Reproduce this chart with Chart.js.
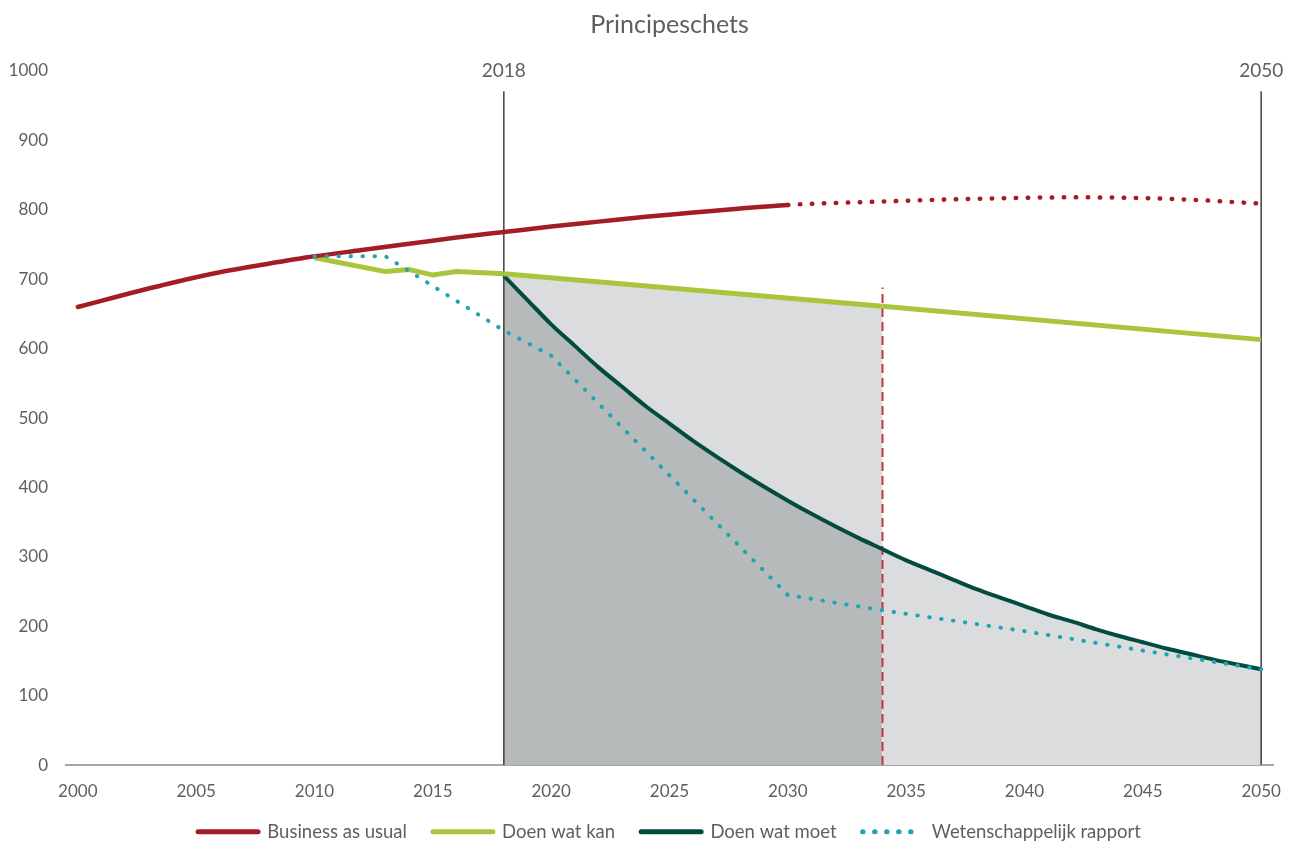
<!DOCTYPE html>
<html>
<head>
<meta charset="utf-8">
<title>Principeschets</title>
<script src="https://cdn.jsdelivr.net/npm/chart.js@4.4.1/dist/chart.umd.min.js"></script>
<style>
  html, body { margin: 0; padding: 0; background: #fff; overflow: hidden; }
  #wrap { width: 1301px; height: 843px; position: relative; }
</style>
</head>
<body>
<div id="wrap"><canvas id="chart"></canvas></div>
<script>
// --- values ---
const bauYears  = [2000, 2002, 2004, 2006, 2008, 2010, 2012, 2014, 2016, 2018, 2020, 2022, 2024, 2026, 2028, 2030, 2034, 2038, 2042, 2046, 2050];
const bauValues = [660, 678, 695, 710, 722, 733, 742, 751, 760, 768, 776, 783, 790, 796, 802, 807, 812, 816, 818, 816, 809];

const kanYears  = [2010, 2013, 2014, 2015, 2016, 2018, 2034, 2050];
const kanValues = [731, 711, 714, 706, 711, 708, 661, 613];

const moetYears  = [2018, 2019, 2020, 2021, 2022, 2023, 2024, 2025, 2026, 2027, 2028, 2029, 2030, 2031, 2032, 2033,
                    2034, 2035, 2036, 2037, 2038, 2039, 2040, 2041, 2042, 2043, 2044, 2045, 2046, 2047, 2048, 2049, 2050];
const moetValues = [705, 670, 635, 604, 573, 545, 517, 492, 467, 444, 422, 401, 381, 362, 344, 327,
                    311, 295, 281, 267, 253, 241, 229, 217, 207, 196, 186, 177, 168, 160, 152, 145, 138];

const wrYears  = [2010, 2013, 2018, 2020, 2030, 2034, 2040, 2045, 2050];
const wrValues = [733, 733, 626, 590, 245, 223, 193, 165, 138];

const xTicks = [2000, 2005, 2010, 2015, 2020, 2025, 2030, 2035, 2040, 2045, 2050];
const markerYears = [2018, 2050];
const markerTop = 971;
const targetYear = 2034;
const targetTop = 688;
const bauSplitYear = 2030;

// colours
const textColor = '#5f5f5f';
const red = '#a51d24';
const lightGreen = '#a9c53b';
const darkGreen = '#024b3f';
const cyan = '#1fa4b4';
const darkGray = '#b6babb';
const lightGray = '#dbdcde';
const dotDash = [0.5, 11.5];

Chart.defaults.font.family = 'Lato';
Chart.defaults.color = textColor;

const pts = (xs, ys) => xs.map((x, i) => ({ x: x, y: ys[i] }));
const vline = (year, top) => [{ x: year, y: 0 }, { x: year, y: top }];

// the year labels above the two vertical marker lines
const markerLabels = {
    id: 'markerLabels',
    afterDraw(chart) {
        const { ctx, scales: { x, y } } = chart;
        ctx.save();
        ctx.font = '19px Lato';
        ctx.fillStyle = textColor;
        ctx.textAlign = 'center';
        ctx.textBaseline = 'middle';
        markerYears.forEach(yr => {
            ctx.fillText(String(yr), x.getPixelForValue(yr), y.getPixelForValue(1000));
        });
        ctx.restore();
    }
};

// pull the legend a bit closer to the axis labels (its top padding is large because of the item spacing)
const legendNudge = {
    id: 'legendNudge',
    afterLayout(chart) {
        chart.legend.top -= 13;
        chart.legend.bottom -= 13;
    }
};

const datasets = [{
    label: 'Business as usual',
    data: pts(bauYears, bauValues),
    borderColor: red,
    borderWidth: 4.5,
    borderCapStyle: 'round',
    cubicInterpolationMode: 'monotone',
    segment: {
        borderDash: ctx => ctx.p0.parsed.x >= bauSplitYear ? dotDash : undefined
    },
    order: 2
}, {
    label: 'Doen wat kan',
    data: pts(kanYears, kanValues),
    borderColor: lightGreen,
    borderWidth: 5,
    backgroundColor: lightGray,
    fill: 2,
    segment: {
        backgroundColor: ctx => (ctx.p0.parsed.x >= 2018 && ctx.p1.parsed.x <= targetYear) ? lightGray : 'rgba(0,0,0,0)'
    },
    order: 3
}, {
    label: 'Doen wat moet',
    data: pts(moetYears, moetValues),
    borderColor: darkGreen,
    borderWidth: 4,
    backgroundColor: darkGray,
    fill: 'origin',
    cubicInterpolationMode: 'monotone',
    segment: {
        backgroundColor: ctx => ctx.p0.parsed.x < targetYear ? darkGray : lightGray
    },
    order: 4
}, {
    label: 'Wetenschappelijk rapport',
    data: pts(wrYears, wrValues),
    borderColor: cyan,
    borderWidth: 4,
    borderDash: dotDash,
    borderCapStyle: 'round',
    legendDash: dotDash,
    order: 1
}, {
    label: '',
    data: vline(markerYears[0], markerTop),
    borderColor: '#404040',
    borderWidth: 1.5,
    order: 5
}, {
    label: '',
    data: vline(markerYears[1], markerTop),
    borderColor: '#404040',
    borderWidth: 1.5,
    order: 5
}, {
    label: '',
    data: vline(targetYear, targetTop),
    borderColor: '#c23440',
    borderWidth: 2,
    borderDash: [9, 5],
    order: 5
}];

new Chart(document.getElementById('chart'), {
    type: 'line',
    data: { datasets: datasets },
    options: {
        responsive: true,
        maintainAspectRatio: false,
        animation: false,
        events: [],
        elements: { point: { radius: 0 } },
        layout: { padding: { left: 0, right: 28, top: 0, bottom: -21 } },
        scales: {
            x: {
                type: 'linear',
                min: 1999.5,
                max: 2050.5,
                afterBuildTicks: scale => { scale.ticks = xTicks.map(v => ({ value: v })); },
                grid: { display: false },
                border: { display: true, color: '#a6a6a6', width: 2 },
                ticks: { callback: v => String(v), font: { size: 17 }, color: textColor, padding: 8, maxRotation: 0 }
            },
            y: {
                min: 0,
                max: 1000,
                afterFit: scale => { scale.width = 66; },
                grid: { display: false, drawTicks: false },
                border: { display: false },
                ticks: { stepSize: 100, callback: v => String(v), font: { size: 17 }, color: textColor, padding: 18 }
            }
        },
        plugins: {
            filler: { drawTime: 'beforeDatasetsDraw' },
            tooltip: { enabled: false },
            title: {
                display: true,
                text: 'Principeschets',
                fullSize: false,
                color: textColor,
                font: { size: 25, weight: 'normal' },
                padding: { top: 10, bottom: 31 }
            },
            legend: {
                position: 'bottom',
                fullSize: false,
                labels: {
                    usePointStyle: true,
                    pointStyleWidth: 60,
                    boxHeight: 16,
                    padding: 26,
                    font: { size: 18.5 },
                    color: textColor,
                    generateLabels: chart => chart.data.datasets
                        .map((ds, i) => ({
                            text: ds.label,
                            datasetIndex: i,
                            strokeStyle: ds.borderColor,
                            fillStyle: ds.borderColor,
                            lineWidth: 5,
                            lineDash: ds.legendDash || [],
                            lineCap: 'round',
                            pointStyle: 'line',
                            fontColor: textColor,
                            hidden: false
                        }))
                        .filter(item => item.text),
                    sort: (a, b) => a.datasetIndex - b.datasetIndex
                }
            }
        }
    },
    plugins: [markerLabels, legendNudge]
});
</script>
</body>
</html>
